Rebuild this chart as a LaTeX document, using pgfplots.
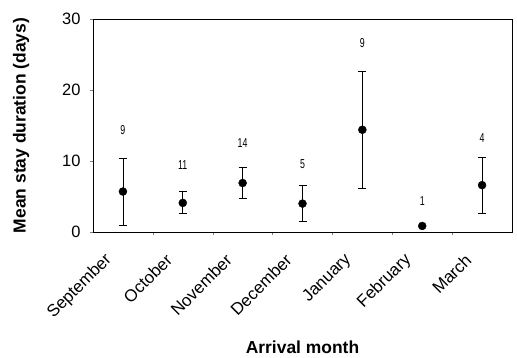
\documentclass[border=0pt]{standalone}
\usepackage{fontspec}
\setmainfont{Liberation Sans}
\newfontfamily\narrowfont[FakeStretch=0.68]{Liberation Sans}
\usepackage{pgfplots}
\pgfplotsset{compat=1.18}
\begin{document}
\begin{tikzpicture}
\begin{axis}[
  scale only axis, width=419bp, height=213bp,
  xmin=-0.5, xmax=6.5, ymin=0, ymax=30,
  ytick={0,10,20,30},
  xtick={0,1,2,3,4,5,6},
  xticklabels={September,October,November,December,January,February,March},
  minor xtick={0.5,1.5,2.5,3.5,4.5,5.5},
  major x tick style={draw=none},
  minor x tick style={black!50},
  tick align=outside,
  major tick length=3bp, minor tick length=3bp,
  ytick pos=left, xtick pos=bottom,
  axis line style={line width=0.8bp},
  /pgf/number format/assume math mode=true,
  ticklabel style={font=\fontsize{16.5}{16.5}\selectfont},
  yticklabel style={xshift=-6bp},
  xticklabel style={rotate=45, anchor=east, xshift=-22bp, yshift=-6bp, font=\fontsize{17}{17}\selectfont},
  every axis y label/.style={at={(axis description cs:0,0.5)}, xshift=-72bp, rotate=90, anchor=center, font=\bfseries\fontsize{17.5}{17.5}\selectfont},
  every axis x label/.style={at={(axis description cs:0.5,0)}, yshift=-115bp, anchor=center, font=\bfseries\fontsize{17.5}{17.5}\selectfont},
  ylabel={Mean stay duration (days)},
  xlabel={Arrival month},
  clip=false,
]
\addplot+[only marks, mark=*, black, mark options={fill=black, draw=black}, mark size=4bp,
  error bars/.cd, y dir=both, y explicit,
  error bar style={line width=0.8bp, black},
  error mark options={rotate=90, mark size=4bp, line width=0.8bp, black}]
  coordinates {
  (0,5.7) +- (0,4.7)
  (1,4.1) +- (0,1.55)
  (2,6.9) +- (0,2.2)
  (3,4.0) +- (0,2.5)
  (4,14.4) +- (0,8.25)
  (6,6.6) +- (0,3.95)
  };
\addplot+[only marks, mark=*, black, mark options={fill=black, draw=black}, mark size=4bp]
  coordinates {(5,0.85)};
\addplot[draw=none, mark=none, nodes near coords, point meta=explicit symbolic,
  nodes near coords style={anchor=center, inner sep=0pt, font=\narrowfont\fontsize{13}{13}\selectfont}]
  coordinates {(0,14.4)[9] (1,9.4)[11] (2,12.5)[14] (3,9.6)[5] (4,26.6)[9] (5,4.3)[1] (6,13.3)[4]};
\end{axis}
\path (current axis.south west) ++(-93bp,-126bp) rectangle ++(517bp,358bp);
\end{tikzpicture}
\end{document}
